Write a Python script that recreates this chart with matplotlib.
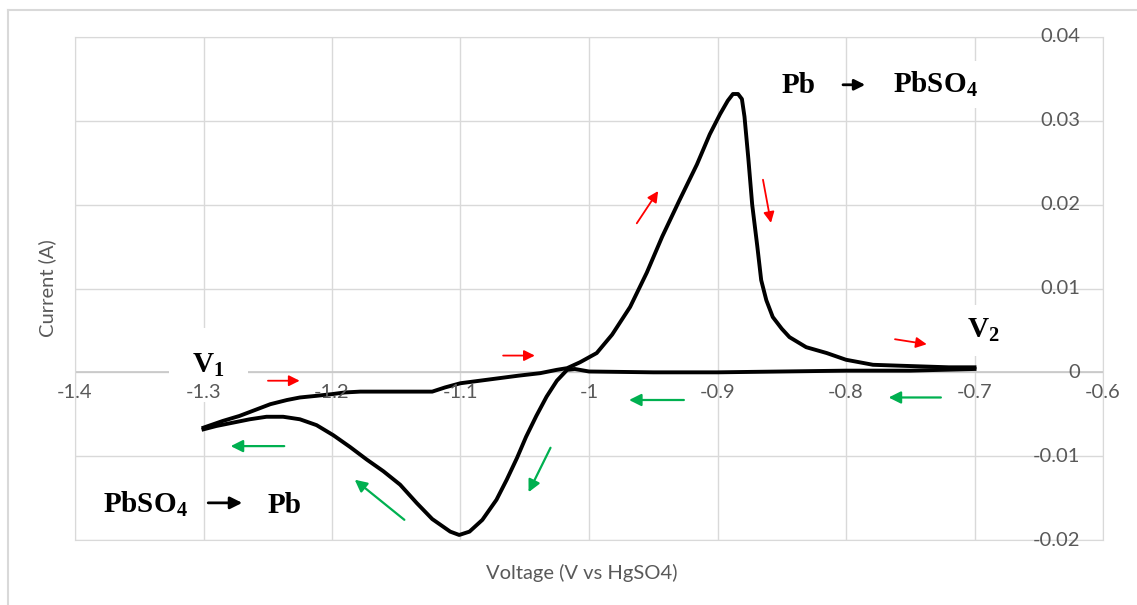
import matplotlib
matplotlib.use("Agg")
import matplotlib.pyplot as plt
import matplotlib.transforms as mtransforms
from matplotlib.lines import Line2D

plt.rcParams['mathtext.fontset'] = 'custom'
plt.rcParams['mathtext.rm'] = 'Liberation Serif:bold'
plt.rcParams['mathtext.bf'] = 'Liberation Serif:bold'
plt.rcParams['mathtext.it'] = 'Liberation Serif:bold'

# forward scan (V1 -> V2)
volt_fwd = [-1.300, -1.285, -1.272, -1.260, -1.248, -1.235, -1.225, -1.212, -1.200,
            -1.190, -1.178, -1.150, -1.122, -1.112, -1.100, -1.085, -1.070, -1.055,
            -1.038, -1.025, -1.017, -1.007, -0.994, -0.982, -0.968, -0.955, -0.943,
            -0.930, -0.916, -0.906, -0.898, -0.892, -0.888, -0.884, -0.881, -0.879,
            -0.876, -0.873, -0.869, -0.866, -0.862, -0.857, -0.850, -0.844, -0.831,
            -0.815, -0.800, -0.779, -0.760, -0.740, -0.720, -0.700]
curr_fwd = [-0.0066, -0.0058, -0.0052, -0.0045, -0.0038, -0.0033, -0.0030, -0.0028, -0.0026,
            -0.0024, -0.0023, -0.0023, -0.0023, -0.0018, -0.0013, -0.0010, -0.0007, -0.0004,
            -0.0001, 0.0003, 0.0005, 0.0012, 0.0023, 0.0045, 0.0078, 0.0119, 0.0162,
            0.0204, 0.0248, 0.0284, 0.0308, 0.0324, 0.0332, 0.0332, 0.0326, 0.0305,
            0.0255, 0.0200, 0.0150, 0.0110, 0.0086, 0.0066, 0.0052, 0.0042, 0.0030,
            0.0023, 0.0015, 0.0009, 0.0008, 0.0007, 0.0006, 0.0006]

# reverse scan (V2 -> V1)
volt_rev = [-0.700, -0.750, -0.800, -0.850, -0.900, -0.950, -1.000, -1.011, -1.017,
            -1.025, -1.033, -1.041, -1.049, -1.056, -1.064, -1.072, -1.083, -1.093,
            -1.101, -1.108, -1.122, -1.134, -1.147, -1.160, -1.173, -1.186, -1.199,
            -1.212, -1.225, -1.238, -1.251, -1.264, -1.277, -1.290, -1.300]
curr_rev = [0.0004, 0.0002, 0.0002, 0.0001, 0.0000, 0.0000, 0.0001, 0.0004, 0.0003,
            -0.0010, -0.0029, -0.0052, -0.0077, -0.0102, -0.0128, -0.0152, -0.0176, -0.0190,
            -0.0194, -0.0190, -0.0175, -0.0156, -0.0134, -0.0118, -0.0104, -0.0089, -0.0075,
            -0.0063, -0.0056, -0.0053, -0.0053, -0.0056, -0.0060, -0.0064, -0.0068]

x_ticks = [-1.4, -1.3, -1.2, -1.1, -1.0, -0.9, -0.8, -0.7, -0.6]
x_labels = ['-1.4', '-1.3', '-1.2', '-1.1', '-1', '-0.9', '-0.8', '-0.7', '-0.6']
y_ticks = [-0.02, -0.01, 0.0, 0.01, 0.02, 0.03, 0.04]
y_labels = ['-0.02', '-0.01', '0', '0.01', '0.02', '0.03', '0.04']

# direction arrows: (x_tail, y_tail, x_head, y_head)
red_arrows = [(-1.252, -0.0010, -1.223, -0.0010),
              (-1.069, 0.0020, -1.040, 0.0020),
              (-0.964, 0.0175, -0.945, 0.0219),
              (-0.865, 0.0233, -0.858, 0.0175),
              (-0.764, 0.0040, -0.735, 0.0033)]
green_arrows = [(-0.724, -0.0030, -0.769, -0.0030),
                (-0.924, -0.0033, -0.971, -0.0033),
                (-1.029, -0.0087, -1.048, -0.0146),
                (-1.142, -0.0178, -1.184, -0.0126),
                (-1.235, -0.0088, -1.281, -0.0088)]

grid_c = '#d9d9d9'
text_c = '#595959'
tick_font = dict(family='Lato', size=14.5, color=text_c)
note_font = dict(family='Liberation Serif', weight='bold', size=21, color='black')

fig = plt.figure(figsize=(11.37, 6.05), dpi=100)
ax = fig.add_axes([75 / 1137, 65 / 605, 1028 / 1137, 503 / 605])
ax.set_xlim(-1.4, -0.6)
ax.set_ylim(-0.02, 0.04)
ax.set_xticks(x_ticks)
ax.set_yticks(y_ticks)
ax.grid(color=grid_c, lw=1)
ax.set_axisbelow(True)
ax.tick_params(length=0, labelbottom=False, labelleft=False)
for s in ax.spines.values():
    s.set_color(grid_c)
ax.axhline(0, color='#c8c8c8', lw=1.2, zorder=1)

ax.plot(volt_fwd, curr_fwd, color='black', lw=2.8, zorder=3, solid_joinstyle='round')
ax.plot(volt_rev, curr_rev, color='black', lw=2.8, zorder=3, solid_joinstyle='round')

for v, lab in zip(x_ticks, x_labels):
    ax.annotate(lab, (v, 0), xytext=(0, -20), textcoords='offset pixels',
                ha='center', va='center', annotation_clip=False, zorder=5, **tick_font)
trans = mtransforms.blended_transform_factory(ax.transAxes, ax.transData)
for v, lab in zip(y_ticks, y_labels):
    ax.text(0.9776, v, lab, transform=trans, ha='right', va='center', zorder=5, **tick_font)

for x0, y0, x1, y1 in red_arrows:
    ax.annotate('', xy=(x1, y1), xytext=(x0, y0),
                arrowprops=dict(arrowstyle='-|>', color='#ff0000', lw=1.3, mutation_scale=16))
for x0, y0, x1, y1 in green_arrows:
    ax.annotate('', xy=(x1, y1), xytext=(x0, y0),
                arrowprops=dict(arrowstyle='-|>', color='#00b050', lw=1.6, mutation_scale=18))

# reaction labels
ax.text(-0.8498, 0.0333, 'Pb', va='baseline', ha='left', zorder=4, **note_font)
ax.annotate('', xy=(-0.7829, 0.0343), xytext=(-0.8045, 0.0343),
            arrowprops=dict(arrowstyle='-|>', color='black', lw=2, mutation_scale=16))
ax.text(-0.7634, 0.0333, r'PbSO$_4$', va='baseline', ha='left', zorder=2,
        bbox=dict(fc='white', ec='none', boxstyle='square,pad=0.3'), **note_font)

ax.text(-1.3782, -0.01677, r'PbSO$_4$', va='baseline', ha='left', zorder=2,
        bbox=dict(fc='white', ec='none', boxstyle='square,pad=0.5'), **note_font)
ax.annotate('', xy=(-1.2677, -0.01557), xytext=(-1.2985, -0.01557),
            arrowprops=dict(arrowstyle='-|>', color='black', lw=2, mutation_scale=18), zorder=4)
ax.text(-1.2498, -0.01677, 'Pb', va='baseline', ha='left', zorder=4, **note_font)

ax.text(-1.309, 0.0000, r'V$_1$', va='baseline', ha='left', zorder=2,
        bbox=dict(fc='white', ec='none', boxstyle='square,pad=0.8'), **note_font)
ax.text(-0.7058, 0.0041, r'V$_2$', va='baseline', ha='left', zorder=2,
        bbox=dict(fc='white', ec='none', boxstyle='square,pad=0.4'), **note_font)

fig.text(47 / 1137, 1 - 288 / 605, 'Current (A)', rotation=90, ha='center', va='center',
         **tick_font)
fig.text(582 / 1137, 1 - 573 / 605, 'Voltage (V vs HgSO4)', ha='center', va='center',
         **tick_font)

# chart frame
fig.add_artist(Line2D([8 / 1137, 1], [1 - 10 / 605] * 2, transform=fig.transFigure,
                      color=grid_c, lw=1.5))
fig.add_artist(Line2D([8 / 1137] * 2, [0, 1 - 10 / 605], transform=fig.transFigure,
                      color=grid_c, lw=1.5))

fig.savefig('out.png', dpi=100)
